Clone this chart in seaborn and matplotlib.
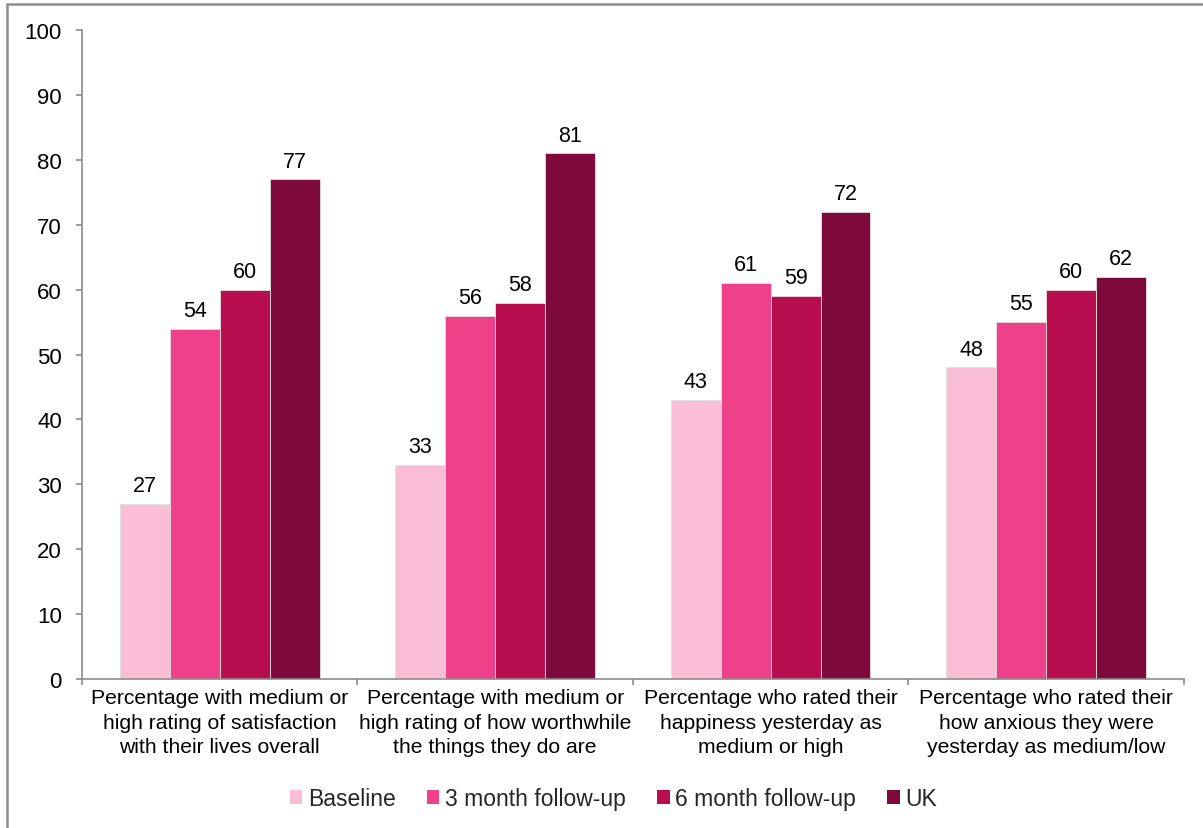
import matplotlib
matplotlib.use("Agg")
import matplotlib.pyplot as plt
from matplotlib.lines import Line2D
from matplotlib.patches import Patch
import seaborn as sns
import pandas as pd

categories = [
    "Percentage with medium or\nhigh rating of satisfaction\nwith their lives overall",
    "Percentage with medium or\nhigh rating of how worthwhile\nthe things they do are",
    "Percentage who rated their\nhappiness yesterday as\nmedium or high",
    "Percentage who rated their\nhow anxious they were\nyesterday as medium/low",
]
series_names = ["Baseline", "3 month follow-up", "6 month follow-up", "UK"]
baseline = [27, 33, 43, 48]
month3 = [54, 56, 61, 55]
month6 = [60, 58, 59, 60]
uk = [77, 81, 72, 62]
colors = ["#F9BED6", "#EF4189", "#B80D4F", "#7D0A3A"]
yticks = [0, 10, 20, 30, 40, 50, 60, 70, 80, 90, 100]

rows = []
for name, vals in zip(series_names, [baseline, month3, month6, uk]):
    for cat, v in zip(categories, vals):
        rows.append({"category": cat, "series": name, "value": v})
df = pd.DataFrame(rows)

sns.set_theme(style="white")
plt.rcParams["font.family"] = ["Liberation Sans", "DejaVu Sans"]

fig = plt.figure(figsize=(12.03, 8.29), dpi=100)
ax = fig.add_axes([0.0682, 0.1797, 0.9158, 0.7829])

sns.barplot(data=df, x="category", y="value", hue="series",
            hue_order=series_names, order=categories, palette=colors,
            width=0.725, saturation=1, edgecolor="#e0e0e0", linewidth=0.6,
            legend=False, ax=ax)

for cont in ax.containers:
    ax.bar_label(cont, fmt="%d", padding=5.5, fontsize=15.5, color="black")

ax.set_ylim(0, 100)
ax.set_xlim(-0.5, 3.5)
ax.set_yticks(yticks)
ax.set_yticklabels([str(t) for t in yticks], fontsize=16, color="black")
ax.set_xticks(range(len(categories)))
ax.set_xticklabels(categories, fontsize=15.2, linespacing=1.38, color="black")
ax.set_xticks([-0.5, 0.5, 1.5, 2.5, 3.5], minor=True)
ax.tick_params(axis="x", which="major", bottom=False, length=0, pad=6.5)
ax.tick_params(axis="x", which="minor", bottom=True, length=4, width=1.2,
               color="#8c8c8c", direction="out")
ax.tick_params(axis="y", left=True, length=4, width=1.2, color="#8c8c8c",
               direction="out", pad=10.5)
ax.set_xlabel("")
ax.set_ylabel("")
for s in ["top", "right"]:
    ax.spines[s].set_visible(False)
for s in ["left", "bottom"]:
    ax.spines[s].set_color("#8c8c8c")
    ax.spines[s].set_linewidth(1.2)

handles = [Patch(facecolor=c, edgecolor="none") for c in colors]
fig.legend(handles, series_names, loc="center", bbox_to_anchor=(0.51, 0.035),
           ncol=4, frameon=False, fontsize=16.5, handlelength=0.55, handleheight=0.55,
           handletextpad=0.25, columnspacing=1.35)

# outer chart frame
fig.add_artist(Line2D([0.0062, 0.0062], [0, 0.9945], transform=fig.transFigure,
                      color="#8f8f8f", linewidth=1.8))
fig.add_artist(Line2D([0.0062, 1.0], [0.9945, 0.9945], transform=fig.transFigure,
                      color="#8f8f8f", linewidth=1.8))

fig.savefig("out.png", dpi=100)
